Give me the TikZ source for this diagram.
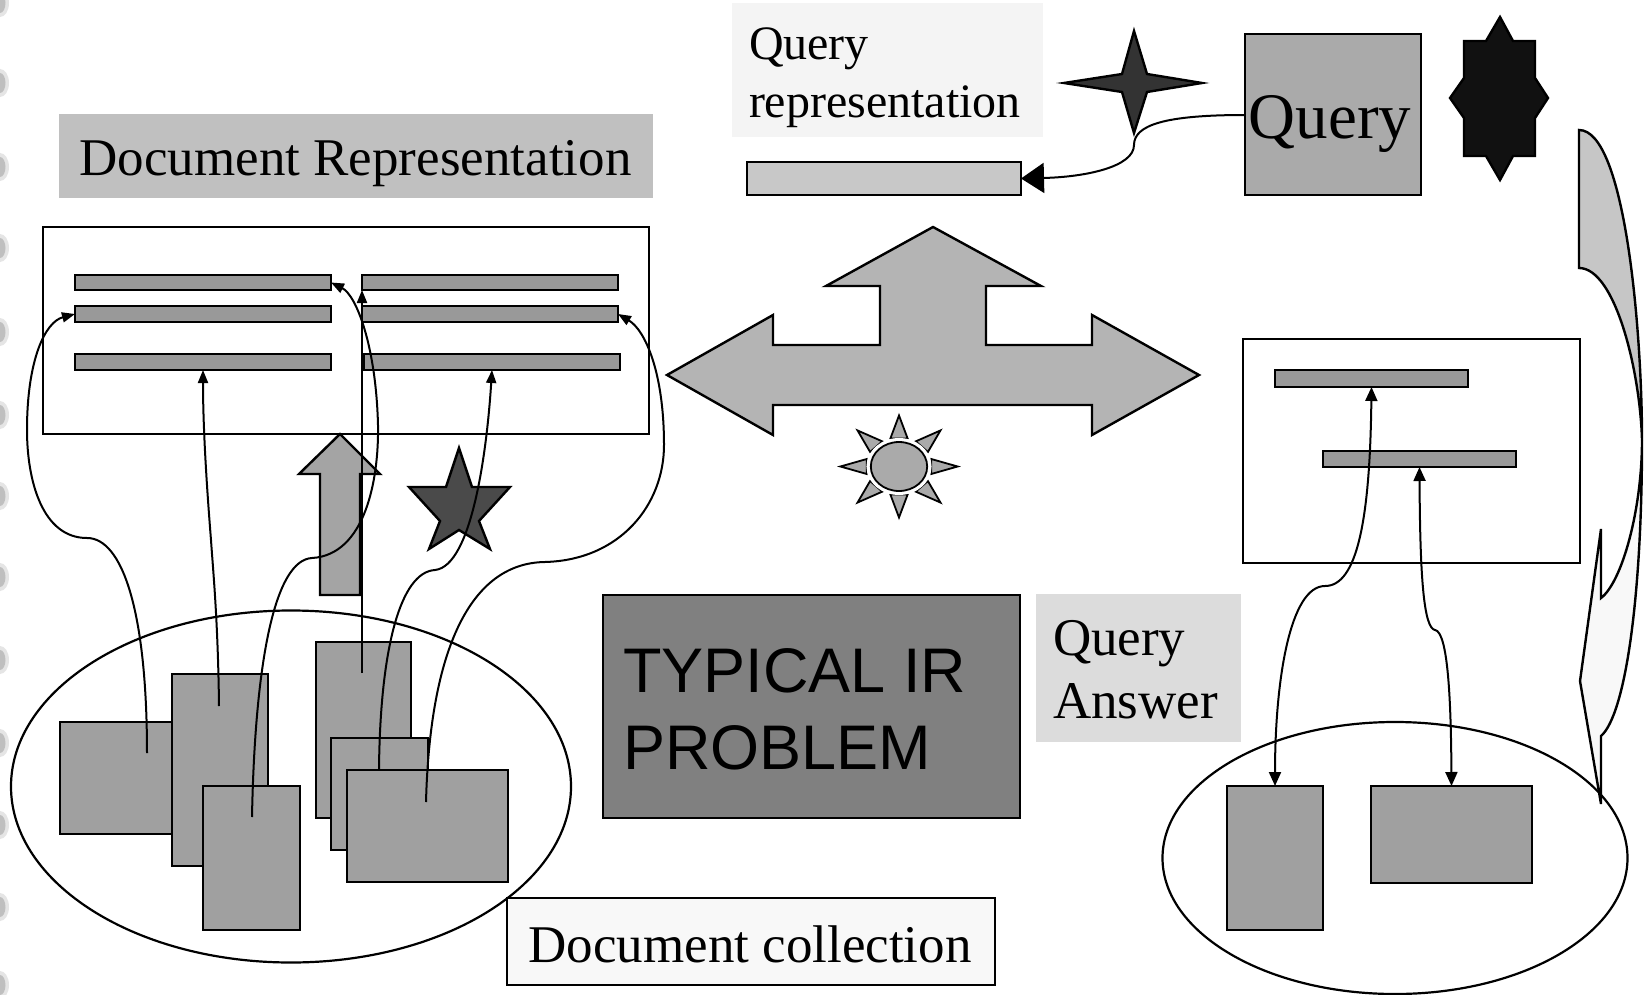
\documentclass[tikz,border=0pt]{standalone}
\usepackage{fontspec}
\setmainfont{Liberation Serif}
\newfontfamily\arialf{Liberation Sans}
\usetikzlibrary{arrows.meta,fit,calc,shapes.geometric}
\definecolor{lblg}{HTML}{C0C0C0}
\definecolor{barg}{HTML}{999999}
\definecolor{docg}{HTML}{A0A0A0}
\definecolor{qrg}{HTML}{F4F4F4}
\definecolor{qrbarg}{HTML}{C8C8C8}
\definecolor{stara}{HTML}{333333}
\definecolor{qg}{HTML}{AAAAAA}
\definecolor{starb}{HTML}{111111}
\definecolor{bigg}{HTML}{B4B4B4}
\definecolor{sung}{HTML}{AAAAAA}
\definecolor{typg}{HTML}{808080}
\definecolor{qag}{HTML}{DCDCDC}
\definecolor{dcg}{HTML}{F8F8F8}
\definecolor{upg}{HTML}{A4A4A4}
\definecolor{starc}{HTML}{4A4A4A}
\definecolor{cag}{HTML}{C6C6C6}
\definecolor{calight}{HTML}{F8F8F8}
\begin{document}
\begin{tikzpicture}[x=1pt,y=-1pt,
  box/.style={draw=black,line width=2.4pt,inner sep=0pt,outer sep=0pt},
  plain/.style={inner sep=0pt,outer sep=0pt},
  bar/.style={box,fill=barg},
  doc/.style={box,fill=docg},
  shp/.style={draw=black,line width=2.4pt,line join=miter},
  conn/.style={line width=2pt,-{Triangle[length=13pt,width=10pt]}},
  dconn/.style={line width=2pt,{Triangle[length=14pt,width=12pt]}-{Triangle[length=14pt,width=12pt]}},
  txt/.style={inner sep=0pt,outer sep=0pt}]
\useasboundingbox (0,0) rectangle (1646,995);
\fill[white] (0,0) rectangle (1646,995);
% left edge decoration
\foreach \yy in {3,83,167,248,332,415,496,577,660,743,825,907,985}{
  \fill[gray!20] (0,\yy) ellipse [x radius=9, y radius=14];
  \fill[gray!50] (0,\yy) ellipse [x radius=5.5, y radius=10];
}
% Document representation label
\node[plain,fill=lblg,fit={(59,114) (653,198)}] (drbox) {};
\node[txt,anchor=base,font=\fontsize{53}{63}\selectfont] (drtext) at (355.5,176) {Document Representation};
% left frame with bars
\node[box,fill=white,fit={(43,227) (649,434)}] (lframe) {};
\node[bar,fit={(75,275) (331,290)}] (b1l) {};
\node[bar,fit={(362,275) (618,290)}] (b1r) {};
\node[bar,fit={(75,306) (331,322)}] (b2l) {};
\node[bar,fit={(362,306) (618,322)}] (b2r) {};
\node[bar,fit={(75,354) (331,370)}] (b3l) {};
\node[bar,fit={(364,354) (620,370)}] (b3r) {};
% query representation
\node[plain,fill=qrg,fit={(732,3) (1043,137)}] (qrbox) {};
\node[txt,anchor=base west,font=\fontsize{48}{58}\selectfont] (qrtext) at (749,60) {\parbox[t]{290pt}{Query\\representation}};
\node[box,fill=qrbarg,fit={(747,162) (1021,195)}] (qrbar) {};
% four-point star
\draw[shp,fill=stara] (1134,31) -- (1147,74) -- (1202,83) -- (1147,92) -- (1134,133) -- (1122,92) -- (1064,83) -- (1122,74) -- cycle;
% query box
\node[box,fill=qg,fit={(1245,34) (1421,195)}] (qbox) {};
\node[txt,anchor=base,font=\fontsize{65}{70}\selectfont] (qtext) at (1330,139) {Query};
\coordinate (qs) at (1245,115);
\draw[line width=2pt,-{Triangle[length=23pt,width=30pt]}] (qs) .. controls (1165,115) and (1134,125) .. (1134,145) .. controls (1134,167) and (1085,177) .. (qrbar.east);
% eight-point star
\draw[shp,fill=starb] (1500,17) -- (1513,41) -- (1535,41) -- (1535,78) -- (1548,98) -- (1535,118) -- (1535,156) -- (1513,156) -- (1500,180) -- (1486,156) -- (1464,156) -- (1464,118) -- (1450,98) -- (1464,78) -- (1464,41) -- (1486,41) -- cycle;
% big three-way arrow
\draw[shp,fill=bigg] (933,227) -- (1041,286) -- (986,286) -- (986,345) -- (1092,345) -- (1092,315) -- (1199,375) -- (1092,435) -- (1092,405) -- (773,405) -- (773,435) -- (667,375) -- (773,315) -- (773,345) -- (880,345) -- (880,286) -- (826,286) -- cycle;
% sun
\begin{scope}[shift={(899,466.5)},xscale=1.15]
  \foreach \a in {0,45,...,315}
    \draw[line width=1.8pt,fill=sung,line join=miter] (\a:51) -- (\a+15:29) -- (\a-15:29) -- cycle;
  \draw[white,line width=3pt] (0,0) circle (27);
  \draw[line width=1.8pt,fill=sung] (0,0) circle (24.5);
\end{scope}
% document collection (left)
\node[ellipse,draw=black,line width=2.2pt,inner sep=0pt,minimum width=560pt,minimum height=352pt] (lcoll) at (291,786.5) {};
\node[doc,fit={(60,722) (173,834)}] (d1) {};
\node[doc,fit={(172,674) (268,866)}] (d2) {};
\node[doc,fit={(203,786) (300,930)}] (d3) {};
\node[doc,fit={(316,642) (411,818)}] (d4) {};
\node[doc,fit={(331,738) (428,850)}] (d5) {};
\node[doc,fit={(347,770) (508,882)}] (d6) {};
% up arrow and star
\draw[shp,fill=upg] (340,434) -- (380,474) -- (360,474) -- (360,595) -- (320,595) -- (320,474) -- (299,474) -- cycle;
\draw[shp,fill=starc] (459,448) -- (472,487) -- (510,487) -- (479,521) -- (490,549) -- (459,530) -- (429,549) -- (440,521) -- (409,487) -- (446,487) -- cycle;
% left connectors
\coordinate (c1s) at (147,753);
\coordinate (c2s) at (219,706);
\coordinate (c3s) at (252,817);
\coordinate (c4s) at (362,673);
\coordinate (c5s) at (379,770);
\coordinate (c6s) at (426,802);
\draw[conn] (c1s) .. controls (147,610) and (122,538) .. (87,538) .. controls (42,538) and (27,480) .. (27,430) .. controls (27,360) and (45,322) .. (b2l.west);
\draw[conn] (c2s) .. controls (218,620) and (213,570) .. (211,540) .. controls (207,490) and (203,430) .. (b3l.south);
\draw[conn] (c3s) .. controls (255,660) and (275,560) .. (312,558) .. controls (365,555) and (379,480) .. (378,425) .. controls (376,345) and (356,295) .. (b1l.east);
\draw[conn] (c4s) -- (b1r.south west);
\draw[conn] (c5s) .. controls (380,650) and (400,572) .. (435,570) .. controls (472,566) and (487,450) .. (b3r.south);
\draw[conn] (c6s) .. controls (430,650) and (470,563) .. (545,562) .. controls (620,560) and (664,505) .. (664,445) .. controls (664,372) and (645,330) .. (b2r.east);
% document collection label
\node[box,fill=dcg,fit={(507,898) (995,985)}] (dcbox) {};
\node[txt,anchor=base,font=\fontsize{53}{63}\selectfont] (dctext) at (750,962) {Document collection};
% typical IR problem
\node[box,fill=typg,fit={(603,595) (1020,818)}] (typbox) {};
\node[txt,anchor=base west,font=\arialf\fontsize{63}{77}\selectfont] (typtext) at (623,692) {\parbox[t]{390pt}{TYPICAL IR\\PROBLEM}};
% query answer
\node[plain,fill=qag,fit={(1036,594) (1241,742)}] (qabox) {};
\node[txt,anchor=base west,font=\fontsize{53}{63}\selectfont] (qatext) at (1053,655) {\parbox[t]{185pt}{Query\\Answer}};
% right frame
\node[box,fill=white,fit={(1243,339) (1580,563)}] (rframe) {};
\node[bar,fit={(1275,370) (1468,387)}] (bA) {};
\node[bar,fit={(1323,451) (1516,467)}] (bB) {};
% right collection
\node[ellipse,draw=black,line width=2.2pt,inner sep=0pt,minimum width=465pt,minimum height=272pt] (rcoll) at (1395,858) {};
\node[doc,fit={(1227,786) (1323,930)}] (r1) {};
\node[doc,fit={(1371,786) (1532,883)}] (r2) {};
\draw[dconn] (bA.south) .. controls (1370,520) and (1357,586) .. (1325,586) .. controls (1290,586) and (1275,680) .. (r1.north);
\draw[dconn] (bB.south) .. controls (1420,580) and (1424,628) .. (1435,630) .. controls (1448,632) and (1451,700) .. (r2.north);
% curved arrow at right edge
\draw[shp,fill=cag] (1579,130) .. controls (1625,130) and (1642,330) .. (1642,440) .. controls (1640,370) and (1615,268) .. (1579,268) -- cycle;
\draw[shp,fill=calight] (1642,440) .. controls (1642,600) and (1625,715) .. (1601,736) -- (1601,804) -- (1580,681) -- (1601,529) -- (1601,598) .. controls (1622,582) and (1642,510) .. (1642,440) -- cycle;
\end{tikzpicture}
\end{document}
